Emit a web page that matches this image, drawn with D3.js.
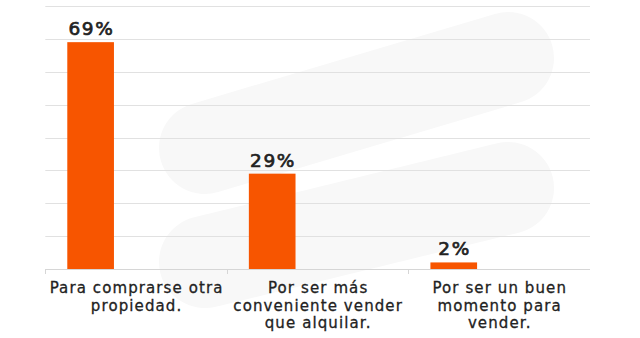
<!DOCTYPE html>
<html lang="es">
<head>
<meta charset="UTF-8">
<title>Motivos para vender</title>
<style>
  body { margin: 0; background: #fff; }
  svg text { font-family: "DejaVu Sans", sans-serif; fill: #222; }
  .grid line { stroke: #e1e1e1; stroke-width: 1; }
  .val { font-size: 18.5px; letter-spacing: 1.6px; stroke: #222; stroke-width: 0.7px; }
  .cat { font-size: 15px; letter-spacing: 1.1px; stroke: #222; stroke-width: 0.3px; }
</style>
</head>
<body>
<svg width="640" height="338"></svg>
<script src="https://d3js.org/d3.v7.min.js"></script>
<script>
// data
const categories = [
  ["Para comprarse otra", "propiedad."],
  ["Por ser más", "conveniente vender", "que alquilar."],
  ["Por ser un buen", "momento para", "vender."]
];
const values = [69, 29, 2];
const gridTicks = [0, 10, 20, 30, 40, 50, 60, 70, 80];

const svg = d3.select("svg");
const plot = { left: 45.3, right: 590, top: 6, bottom: 269 };

// faint background watermark
const wm = svg.append("g").attr("stroke", "#f8f8f8").attr("stroke-width", 92)
  .attr("stroke-linecap", "round");
wm.append("line").attr("x1", 205).attr("y1", 148).attr("x2", 508).attr("y2", 58);
wm.append("line").attr("x1", 205).attr("y1", 262).attr("x2", 508).attr("y2", 188);

// category slots (ticks at their edges)
const xc = d3.scaleBand()
  .domain(d3.range(values.length))
  .range([plot.left, plot.right]);

// bars sit left of the category centre
const x = d3.scaleBand()
  .domain(d3.range(values.length))
  .range([plot.left, plot.right])
  .paddingInner(0.743)
  .paddingOuter(0.3715)
  .align(0.163);

const y = d3.scaleLinear().domain([0, 80]).range([plot.bottom, plot.top]);

// gridlines
svg.append("g").attr("class", "grid")
  .selectAll("line")
  .data(gridTicks.slice(1))
  .enter().append("line")
  .attr("x1", plot.left).attr("x2", plot.right)
  .attr("y1", d => Math.round(y(d)) + 0.5)
  .attr("y2", d => Math.round(y(d)) + 0.5);

// baseline with category ticks at band edges
const base = svg.append("g").attr("class", "grid");
base.append("line")
  .attr("x1", plot.left).attr("x2", plot.right)
  .attr("y1", plot.bottom + 0.5).attr("y2", plot.bottom + 0.5)
  .style("stroke", "#d6d6d6");
base.selectAll(".tk")
  .data(xc.domain())
  .enter().append("line")
  .attr("class", "tk")
  .attr("x1", i => Math.round(xc(i)) + 0.5)
  .attr("x2", i => Math.round(xc(i)) + 0.5)
  .attr("y1", plot.bottom).attr("y2", plot.bottom + 5)
  .style("stroke", "#d6d6d6");

// bars
svg.selectAll(".bar")
  .data(values)
  .enter().append("rect")
  .attr("class", "bar")
  .attr("x", (d, i) => x(i))
  .attr("y", d => y(d))
  .attr("width", x.bandwidth())
  .attr("height", d => plot.bottom - y(d))
  .attr("fill", "#f75500");

// value labels
svg.selectAll(".val")
  .data(values)
  .enter().append("text")
  .attr("class", "val")
  .attr("x", (d, i) => x(i) + x.bandwidth() / 2 + 0.8)
  .attr("y", d => y(d) - 7)
  .attr("text-anchor", "middle")
  .text(d => d + "%");

// category labels
const cat = svg.selectAll(".cat")
  .data(categories)
  .enter().append("text")
  .attr("class", "cat")
  .attr("text-anchor", "middle")
  .attr("x", (d, i) => xc(i) + xc.bandwidth() / 2 + 0.5)
  .attr("y", 293);
cat.selectAll("tspan")
  .data(d => d)
  .enter().append("tspan")
  .attr("x", function () { return d3.select(this.parentNode).attr("x"); })
  .attr("dy", (d, i) => i === 0 ? 0 : 17.5)
  .text(d => d);
</script>
</body>
</html>
